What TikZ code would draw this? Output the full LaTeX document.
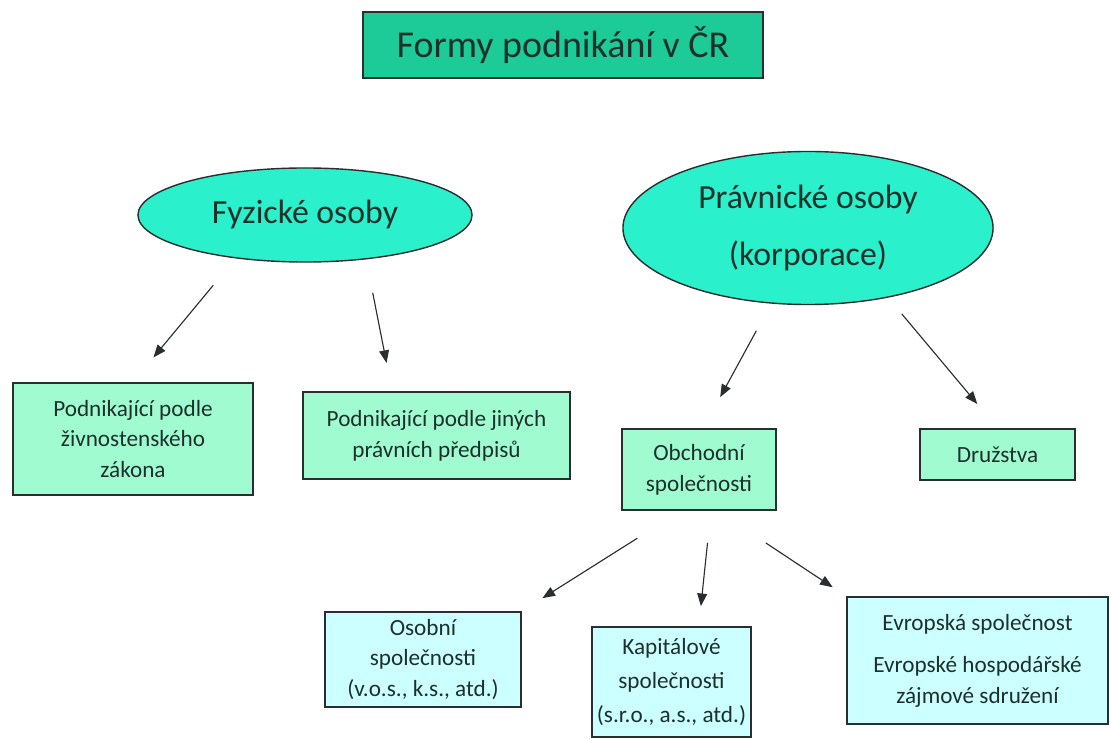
\documentclass[tikz,border=0pt]{standalone}
\usepackage{fontspec}
\setmainfont{Carlito}
\usepackage{tikz}
\usetikzlibrary{shapes.geometric,arrows.meta}

\definecolor{titlefill}{HTML}{1CCB98}
\definecolor{ellfill}{HTML}{2AF0CC}
\definecolor{mintfill}{HTML}{A0FCD0}
\definecolor{cyanfill}{HTML}{CCFFFF}
\definecolor{textdark}{HTML}{1C302C}
\definecolor{edgedark}{HTML}{2A2E2E}

\begin{document}
\begin{tikzpicture}[x=0.025cm,y=-0.025cm,
  every node/.style={text=textdark,inner sep=0pt,align=center},
  titlebox/.style={draw=edgedark,line width=1.3pt,fill=titlefill,
    font=\fontsize{27}{32}\selectfont},
  oval/.style={ellipse,draw=edgedark,line width=1pt,fill=ellfill,
    font=\fontsize{24}{41}\selectfont},
  mintbox/.style={draw=edgedark,line width=1.3pt,fill=mintfill,
    font=\fontsize{16.5}{22}\selectfont},
  cyanbox/.style={draw=edgedark,line width=1.3pt,fill=cyanfill,
    font=\fontsize{16.5}{22}\selectfont},
  arr/.style={draw=edgedark,line width=0.8pt,-{Triangle[length=9pt,width=7pt]}}]
  \useasboundingbox[fill=white] (0,0) rectangle (1111,740);

  \node[titlebox,minimum width=10cm,minimum height=1.65cm] (forms) at (563,45)
    {Formy podnikání v ČR};

  \node[oval,minimum width=8.35cm,minimum height=2.35cm] (fyzicke) at (305,215)
    {Fyzické osoby};
  \node[oval,minimum width=9.25cm,minimum height=3.825cm] (pravnicke) at (808,228)
    {Právnické osoby\\(korporace)};

  \node[mintbox,minimum width=6cm,minimum height=2.8cm] (zivnost) at (133,439)
    {Podnikající podle\\živnostenského\\zákona};
  \node[mintbox,minimum width=6.675cm,minimum height=2.175cm] (jine) at (436.5,435.5)
    {Podnikající podle jiných\\právních předpisů};
  \node[mintbox,minimum width=3.85cm,minimum height=2.025cm] (obchodni) at (699,469.5)
    {Obchodní\\společnosti};
  \node[mintbox,minimum width=3.875cm,minimum height=1.275cm] (druzstva) at (997.5,454.5)
    {Družstva};

  \node[cyanbox,minimum width=4.9cm,minimum height=2.375cm] (osobni) at (423,659.5)
    {Osobní\\společnosti\\(v.o.s., k.s., atd.)};
  \node[cyanbox,minimum width=3.975cm,minimum height=2.75cm,
    font=\fontsize{16.5}{24}\selectfont] (kapital) at (671.5,682)
    {Kapitálové\\společnosti\\(s.r.o., a.s., atd.)};
  \node[cyanbox,minimum width=6.525cm,minimum height=3.175cm] (evropske) at (977.5,660.5)
    {Evropská společnost\\[8pt]Evropské hospodářské\\zájmové sdružení};

  \draw[arr,shorten <=0.87cm,shorten >=0.8cm] (fyzicke.212) -- (zivnost.north);
  \draw[arr,shorten <=0.85cm,shorten >=0.715cm] (fyzicke.324) -- (jine.135);
  \draw[arr,shorten <=0.77cm,shorten >=0.88cm] (pravnicke.244) -- (obchodni.84);
  \draw[arr,shorten <=0.53cm,shorten >=0.785cm] (pravnicke.319) -- (druzstva.north);
  \draw[arr,shorten <=1.28cm,shorten >=0.605cm] (obchodni.246) -- (osobni.north east);
  \draw[arr,shorten <=0.805cm,shorten >=0.5cm] (obchodni.286) -- (kapital.64);
  \draw[arr,shorten <=1.45cm,shorten >=0.4cm] (obchodni.294) -- (evropske.north west);
\end{tikzpicture}
\end{document}
